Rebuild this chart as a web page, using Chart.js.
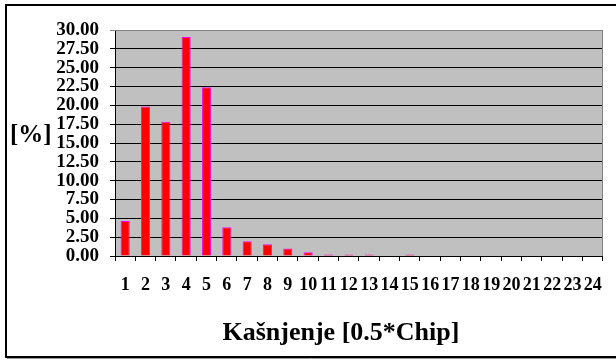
<!DOCTYPE html>
<html><head><meta charset="utf-8">
<script src="https://cdn.jsdelivr.net/npm/chart.js@4/dist/chart.umd.min.js"></script>
<style>html,body{margin:0;padding:0;background:#fff}#wrap{width:616px;height:360px}canvas{display:block}</style>
</head><body><div id="wrap"><canvas id="c" width="616" height="360"></canvas></div>
<script>
const categories = ['1','2','3','4','5','6','7','8','9','10','11','12','13','14','15','16','17','18','19','20','21','22','23','24'];
const delayPercent = [4.64,19.86,17.82,29.07,22.39,3.80,1.96,1.56,0.98,0.49,0.2,0.2,0.2,0,0.2,0,0,0,0,0,0,0,0,0];
const yTickValues = [0,2.5,5,7.5,10,12.5,15,17.5,20,22.5,25,27.5,30];
const yAxisLabel = '[%]';
const xAxisLabel = 'Kašnjenje [0.5*Chip]';

const FONT = "'Liberation Serif','Times New Roman',serif";

const decor = {
  id: 'decor',
  beforeDraw(chart) {
    const ctx = chart.ctx, a = chart.chartArea;
    ctx.save();
    ctx.fillStyle = '#fff';
    ctx.fillRect(0, 0, chart.width, chart.height);
    ctx.strokeStyle = '#000';
    ctx.lineWidth = 2;
    ctx.beginPath();
    ctx.moveTo(chart.width + 5, 5);
    ctx.lineTo(6, 5);
    ctx.lineTo(6, 357);
    ctx.lineTo(chart.width + 5, 357);
    ctx.stroke();
    ctx.strokeStyle = '#999';
    ctx.lineWidth = 1;
    ctx.beginPath();
    ctx.moveTo(7, 358.5);
    ctx.lineTo(chart.width, 358.5);
    ctx.stroke();
    ctx.fillStyle = '#c0c0c0';
    ctx.fillRect(a.left, a.top, a.right - a.left, a.bottom - a.top);
    ctx.restore();
  },
  afterDatasetsDraw(chart) {
    const ctx = chart.ctx, a = chart.chartArea;
    ctx.save();
    ctx.strokeStyle = '#808080';
    ctx.lineWidth = 1;
    ctx.beginPath();
    ctx.moveTo(a.left, Math.round(a.top) + 0.5);
    ctx.lineTo(Math.round(a.right) - 0.5, Math.round(a.top) + 0.5);
    ctx.lineTo(Math.round(a.right) - 0.5, a.bottom);
    ctx.stroke();
    ctx.restore();
  },
  afterDraw(chart) {
    const ctx = chart.ctx, a = chart.chartArea;
    ctx.save();
    ctx.fillStyle = '#000';
    ctx.textBaseline = 'alphabetic';
    ctx.font = "bold 25px " + FONT;
    ctx.textAlign = 'left';
    ctx.fillText(yAxisLabel, 10, 142);
    ctx.font = "bold 26px " + FONT;
    ctx.textAlign = 'center';
    ctx.fillText(xAxisLabel, a.left + (a.right - a.left) * 0.463, 340);
    ctx.restore();
  }
};

new Chart(document.getElementById('c'), {
  type: 'bar',
  data: {
    labels: categories,
    datasets: [{
      data: delayPercent,
      backgroundColor: '#ff0000',
      borderColor: '#ff00ff',
      borderWidth: 1,
      barPercentage: 0.45,
      categoryPercentage: 1.0
    }]
  },
  options: {
    responsive: false,
    animation: false,
    devicePixelRatio: 1,
    layout: { padding: { left: 0, top: 30, right: 9, bottom: 0 } },
    plugins: { legend: { display: false }, tooltip: { enabled: false } },
    scales: {
      x: {
        offset: true,
        grid: { offset: true, drawOnChartArea: false, drawTicks: true, tickLength: 5, color: '#000' },
        border: { display: true, color: '#000', width: 1 },
        ticks: { autoSkip: false, maxRotation: 0, minRotation: 0, color: '#000', padding: 14,
                 font: { family: FONT, size: 18, weight: 'bold' } },
        afterFit(s) { s.height = 104; }
      },
      y: {
        min: 0, max: 30,
        afterBuildTicks(s) { s.ticks = yTickValues.map(v => ({ value: v })); },
        grid: {
          color: (c) => (c.tick && c.tick.value === 30) ? '#808080' : '#000',
          tickLength: 5, drawTicks: true, lineWidth: 1
        },
        border: { display: true, color: '#000', width: 1 },
        ticks: { autoSkip: false, color: '#000', padding: 11, callback: (v) => Number(v).toFixed(2),
                 font: { family: FONT, size: 19, weight: 'bold', lineHeight: 1 } },
        afterFit(s) { s.width = 115; }
      }
    }
  },
  plugins: [decor]
});
</script>
</body></html>
